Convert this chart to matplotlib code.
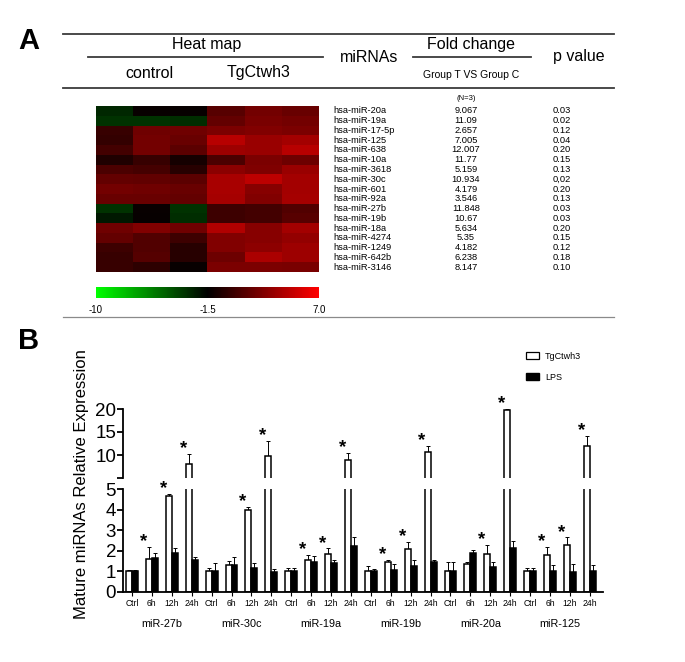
import numpy as np
import matplotlib
matplotlib.use('Agg')
import matplotlib.pyplot as plt
from matplotlib.colors import LinearSegmentedColormap, Normalize
from matplotlib.lines import Line2D
from matplotlib.patches import Patch
from matplotlib import transforms as mtrans
from matplotlib import font_manager as fm

plt.rcParams['font.family'] = ['Liberation Sans', 'DejaVu Sans']
_names = {f.name for f in fm.fontManager.ttflist}
NARROW = 'Liberation Sans Narrow' if 'Liberation Sans Narrow' in _names else 'Liberation Sans'

# ---------------- Panel A data ----------------
mirnas = ['hsa-miR-20a', 'hsa-miR-19a', 'hsa-miR-17-5p', 'hsa-miR-125', 'hsa-miR-638',
          'hsa-miR-10a', 'hsa-miR-3618', 'hsa-miR-30c', 'hsa-miR-601', 'hsa-miR-92a',
          'hsa-miR-27b', 'hsa-miR-19b', 'hsa-miR-18a', 'hsa-miR-4274', 'hsa-miR-1249',
          'hsa-miR-642b', 'hsa-miR-3146']
fold_change = ['9.067', '11.09', '2.657', '7.005', '12.007', '11.77', '5.159', '10.934',
               '4.179', '3.546', '11.848', '10.67', '5.634', '5.35', '4.182', '6.238', '8.147']
p_values = ['0.03', '0.02', '0.12', '0.04', '0.20', '0.15', '0.13', '0,02', '0.20', '0.13',
            '0.03', '0.03', '0.20', '0.15', '0.12', '0.18', '0.10']
heat_control = [
    [-2.8, -1.2, -1.3], [-3.2, -3.2, -3.0], [0.3, 2.2, 2.2], [0.2, 2.3, 2.0],
    [0.7, 2.3, 1.5], [-0.5, 0.3, -0.8], [1.0, 0.8, -0.2], [1.8, 1.7, 1.5],
    [2.3, 2.2, 2.0], [2.0, 2.0, 1.8], [-3.2, -1.2, -3.2], [-2.3, -1.3, -3.0],
    [2.2, 2.8, 2.2], [1.8, 1.2, 0.5], [0.5, 1.2, -0.2], [0.3, 1.3, -0.2],
    [0.3, 0.0, -1.2]]
heat_tgctwh3 = [
    [1.4, 2.3, 2.0], [1.8, 2.5, 2.3], [2.6, 2.8, 2.6], [4.6, 3.6, 3.9],
    [3.7, 3.6, 4.6], [1.0, 2.6, 2.1], [3.1, 2.7, 3.6], [4.1, 4.8, 3.9],
    [4.1, 3.0, 3.9], [4.0, 2.8, 4.0], [0.5, 0.7, 1.2], [0.5, 0.7, 1.4],
    [4.4, 3.0, 3.9], [2.8, 3.0, 3.4], [2.8, 3.2, 3.7], [2.1, 4.2, 3.7],
    [2.6, 2.6, 2.5]]
cbar_ticks = [-10, -1.5, 7.0]
cbar_ticklabels = ['-10', '-1.5', '7.0']

# ---------------- Panel B data ----------------
groups = ['miR-27b', 'miR-30c', 'miR-19a', 'miR-19b', 'miR-20a', 'miR-125']
timepoints = ['Ctrl', '6h', '12h', '24h']
tg_mean = [1.0, 1.6, 4.65, 8.0,
           1.0, 1.3, 4.0, 9.8,
           1.0, 1.55, 1.85, 8.9,
           1.0, 1.45, 2.1, 10.6,
           1.0, 1.35, 1.83, 19.8,
           1.0, 1.8, 2.3, 11.9]
tg_err = [0.08, 0.6, 0.1, 2.2,
          0.18, 0.2, 0.12, 3.3,
          0.15, 0.25, 0.27, 1.5,
          0.28, 0.12, 0.35, 1.3,
          0.45, 0.1, 0.45, 0.2,
          0.15, 0.4, 0.35, 2.2]
lps_mean = [1.0, 1.65, 1.9, 1.55,
            1.0, 1.3, 1.17, 0.97,
            1.0, 1.45, 1.4, 2.25,
            1.0, 1.08, 1.25, 1.45,
            1.0, 1.88, 1.2, 2.13,
            1.0, 1.0, 0.95, 1.0]
lps_err = [0.08, 0.25, 0.25, 0.17,
           0.4, 0.38, 0.25, 0.15,
           0.15, 0.28, 0.13, 0.4,
           0.12, 0.3, 0.3, 0.12,
           0.45, 0.17, 0.27, 0.35,
           0.15, 0.3, 0.4, 0.33]
tg_significant = [0, 1, 1, 1,
                  0, 0, 1, 1,
                  0, 1, 1, 1,
                  0, 1, 1, 1,
                  0, 0, 1, 1,
                  0, 1, 1, 1]
series_names = ['TgCtwh3', 'LPS']

# ---------------- layout helpers ----------------
W, H = 685, 662
fig = plt.figure(figsize=(W / 100, H / 100), dpi=100)


def fx(x):
    return x / W


def fy(y):
    return 1 - y / H


def rect(x0, y0, x1, y1):
    return [x0 / W, 1 - y1 / H, (x1 - x0) / W, (y1 - y0) / H]


def hline(y, x0, x1, lw=1.3, color='#3a3a3a'):
    fig.add_artist(Line2D([fx(x0), fx(x1)], [fy(y), fy(y)], lw=lw, color=color,
                          transform=fig.transFigure))


# ---------------- Panel A ----------------
fig.text(fx(29), fy(41), 'A', fontsize=21, fontweight='bold', ha='center', va='center')
hline(34, 63, 614)
hline(57, 88, 323)
hline(57, 413, 531)
hline(88, 63, 614)
hline(317, 63, 614, lw=0.9, color='#8a8a8a')

fig.text(fx(207), fy(45), 'Heat map', fontsize=11.5, ha='center', va='center')
fig.text(fx(369), fy(57), 'miRNAs', fontsize=11.5, ha='center', va='center')
fig.text(fx(471), fy(45), 'Fold change', fontsize=11.5, ha='center', va='center')
fig.text(fx(579), fy(57), 'p value', fontsize=11.5, ha='center', va='center')
fig.text(fx(149), fy(73), 'control', fontsize=11.5, ha='center', va='center')
fig.text(fx(259), fy(73), 'TgCtwh3', fontsize=11.5, ha='center', va='center')
fig.text(fx(471), fy(75), 'Group T VS Group C', fontsize=7.5, ha='center', va='center',
         family=NARROW)
fig.text(fx(466), fy(98), '(N=3)', fontsize=5.5, ha='center', va='center')

cmap = LinearSegmentedColormap.from_list(
    'gbr', [(0.0, (0.0, 1.0, 0.0)), (0.5, (0.0, 0.0, 0.0)), (1.0, (1.0, 0.0, 0.0))])
norm = Normalize(vmin=cbar_ticks[0], vmax=cbar_ticks[-1])

heat = np.hstack([np.array(heat_control), np.array(heat_tgctwh3)])
ax_hm = fig.add_axes(rect(96, 106, 319, 272))
im = ax_hm.imshow(heat, cmap=cmap, norm=norm, aspect='auto', interpolation='nearest')
ax_hm.set_axis_off()

tr = mtrans.blended_transform_factory(fig.transFigure, ax_hm.transData)
for i, (name, fc, pv) in enumerate(zip(mirnas, fold_change, p_values)):
    fig.text(fx(333), i, name, transform=tr, fontsize=6.7, ha='left', va='center')
    fig.text(fx(466), i, fc, transform=tr, fontsize=6.7, ha='center', va='center')
    fig.text(fx(562), i, pv, transform=tr, fontsize=6.7, ha='center', va='center')

cax = fig.add_axes(rect(96, 287, 319, 298))
cb = fig.colorbar(im, cax=cax, orientation='horizontal', ticks=cbar_ticks)
cb.outline.set_visible(False)
cb.ax.set_xticklabels(cbar_ticklabels)
cb.ax.tick_params(length=0, labelsize=7, pad=5)

# ---------------- Panel B ----------------
fig.text(fx(29), fy(341), 'B', fontsize=21, fontweight='bold', ha='center', va='center')

n = len(tg_mean)
x = np.arange(n)
bw = 0.3
xl = (-0.45, n - 1 + 0.66)

ax_lo = fig.add_axes(rect(123, 489, 603, 592))
ax_hi = fig.add_axes(rect(123, 409, 603, 478))

tg_m = np.array(tg_mean)
tg_e = np.array(tg_err)
lp_m = np.array(lps_mean)
lp_e = np.array(lps_err)

for ax in (ax_lo, ax_hi):
    ax.bar(x - bw / 2, tg_m, bw, color='white', edgecolor='black', linewidth=1.1, zorder=2)
    ax.bar(x + bw / 2, lp_m, bw, color='black', edgecolor='black', linewidth=1.1, zorder=2)
    ax.errorbar(x - bw / 2, tg_m, yerr=[np.zeros(n), tg_e], fmt='none', ecolor='black',
                elinewidth=0.7, capsize=1.5, capthick=0.7, zorder=1)
    ax.errorbar(x + bw / 2, lp_m, yerr=[np.zeros(n), lp_e], fmt='none', ecolor='black',
                elinewidth=0.7, capsize=1.5, capthick=0.7, zorder=1)
    ax.set_xlim(*xl)
    for s in ('top', 'right'):
        ax.spines[s].set_visible(False)
    ax.spines['left'].set_linewidth(1.3)
    ax.tick_params(axis='y', labelsize=13.5, length=4, width=1.3, pad=1)

ax_lo.set_ylim(0, 5)
ax_lo.set_yticks([0, 1, 2, 3, 4, 5])
ax_lo.spines['bottom'].set_linewidth(1.3)
ax_lo.set_xticks(x)
ax_lo.set_xticklabels(timepoints * len(groups), fontsize=6.2, family=NARROW)
ax_lo.tick_params(axis='x', length=3, width=0.8, pad=2)

ax_hi.set_ylim(5, 20)
ax_hi.set_yticks([5, 10, 15, 20])
ax_hi.set_yticklabels(['', '10', '15', '20'])
ax_hi.spines['bottom'].set_visible(False)
ax_hi.set_xticks([])

for gi, g in enumerate(groups):
    cx = gi * len(timepoints) + (len(timepoints) - 1) / 2
    ax_lo.annotate(g, xy=(cx, 0), xycoords=('data', 'axes fraction'),
                   xytext=(0, -23), textcoords='offset points',
                   ha='center', va='center', fontsize=7.8)

for i in range(n):
    if tg_significant[i]:
        top = tg_m[i] + tg_e[i]
        ax = ax_hi if top > 5 else ax_lo
        ax.annotate('*', xy=(x[i] - bw / 2, top), xytext=(-4, 0.5),
                    textcoords='offset points', ha='center', va='baseline',
                    fontsize=13.5, fontweight='bold', annotation_clip=False)

fig.text(fx(82), fy(484), 'Mature miRNAs Relative Expression', rotation=90,
         fontsize=12, ha='center', va='center')

handles = [Patch(facecolor='white', edgecolor='black', linewidth=0.9),
           Patch(facecolor='black', edgecolor='black')]
fig.legend(handles, series_names, loc='upper left', bbox_to_anchor=(fx(526), fy(352)),
           frameon=False, handlelength=1.4, handleheight=0.8,
           labelspacing=1.3, handletextpad=0.7, borderpad=0, borderaxespad=0,
           prop={'family': NARROW, 'size': 6.5})

fig.savefig('out.png', dpi=100)
